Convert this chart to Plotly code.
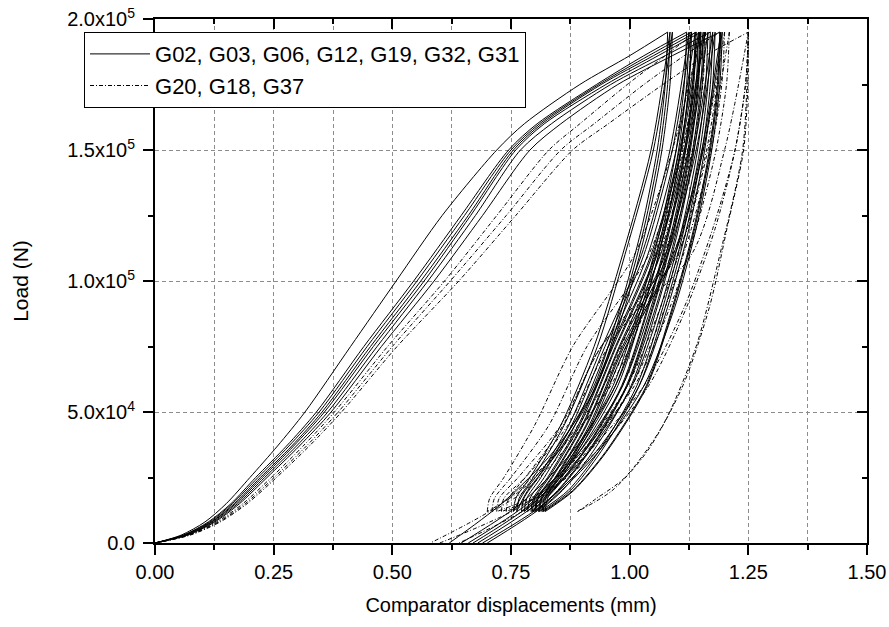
import plotly.graph_objects as go

# ---------------- data ----------------
SOLID_LABEL = "G02, G03, G06, G12, G19, G32, G31"
DASH_LABEL = "G20, G18, G37"

LOAD_Y = [0, 3000, 8000, 15000, 25000, 37000, 50000, 75000, 100000, 125000, 150000, 160000, 175000, 186000, 195000]
UNLOAD_Y = [195000, 175000, 150000, 120000, 90000, 60000, 35000, 20000, 12000]
RELOAD_Y = [12000, 17000, 25000, 45000, 75000, 110000, 150000, 195000]
FINAL_Y = [195000, 175000, 150000, 120000, 90000, 60000, 35000, 15000, 0]

# solid specimens: loading, unload 1, reload 1, unload 2, reload 2, final unload
S1_LOAD = [0, 0.055, 0.105, 0.15, 0.2, 0.258, 0.316, 0.412, 0.508, 0.605, 0.72, 0.778, 0.895, 1.0, 1.08]
S1_U1 = [1.08, 1.075, 1.058, 1.025, 0.98, 0.925, 0.845, 0.78, 0.755]
S1_R1 = [0.755, 0.76, 0.79, 0.855, 0.925, 0.985, 1.045, 1.085]
S1_U2 = [1.085, 1.08, 1.063, 1.03, 0.985, 0.93, 0.85, 0.785, 0.762]
S1_R2 = [0.762, 0.767, 0.797, 0.862, 0.932, 0.99, 1.05, 1.09]
S1_F = [1.09, 1.085, 1.068, 1.035, 0.99, 0.93, 0.84, 0.73, 0.62]

S2_LOAD = [0, 0.06, 0.112, 0.16, 0.212, 0.277, 0.34, 0.44, 0.545, 0.645, 0.745, 0.805, 0.93, 1.03, 1.12]
S2_U1 = [1.12, 1.115, 1.098, 1.065, 1.02, 0.965, 0.885, 0.82, 0.772]
S2_R1 = [0.772, 0.777, 0.807, 0.872, 0.942, 1.025, 1.085, 1.125]
S2_U2 = [1.125, 1.12, 1.103, 1.07, 1.025, 0.97, 0.89, 0.825, 0.778]
S2_R2 = [0.778, 0.783, 0.813, 0.878, 0.948, 1.03, 1.09, 1.13]
S2_F = [1.13, 1.125, 1.108, 1.075, 1.03, 0.97, 0.88, 0.77, 0.645]

S3_LOAD = [0, 0.06, 0.115, 0.163, 0.217, 0.282, 0.346, 0.447, 0.552, 0.652, 0.75, 0.81, 0.935, 1.04, 1.13]
S3_U1 = [1.13, 1.125, 1.108, 1.075, 1.03, 0.975, 0.895, 0.83, 0.785]
S3_R1 = [0.785, 0.79, 0.82, 0.885, 0.955, 1.038, 1.098, 1.138]
S3_U2 = [1.138, 1.133, 1.116, 1.083, 1.038, 0.983, 0.903, 0.838, 0.792]
S3_R2 = [0.792, 0.797, 0.827, 0.892, 0.962, 1.045, 1.105, 1.145]
S3_F = [1.145, 1.14, 1.123, 1.09, 1.045, 0.985, 0.895, 0.785, 0.66]

S4_LOAD = [0, 0.062, 0.118, 0.167, 0.222, 0.288, 0.352, 0.454, 0.56, 0.66, 0.755, 0.815, 0.94, 1.05, 1.14]
S4_U1 = [1.14, 1.135, 1.118, 1.085, 1.04, 0.985, 0.905, 0.84, 0.795]
S4_R1 = [0.795, 0.8, 0.83, 0.895, 0.965, 1.048, 1.108, 1.148]
S4_U2 = [1.148, 1.143, 1.126, 1.093, 1.048, 0.993, 0.913, 0.848, 0.8]
S4_R2 = [0.8, 0.805, 0.835, 0.9, 0.97, 1.055, 1.115, 1.155]
S4_F = [1.155, 1.15, 1.133, 1.1, 1.055, 0.995, 0.905, 0.795, 0.67]

S5_LOAD = [0, 0.064, 0.12, 0.17, 0.226, 0.292, 0.357, 0.46, 0.567, 0.665, 0.76, 0.82, 0.95, 1.06, 1.15]
S5_U1 = [1.15, 1.145, 1.128, 1.095, 1.05, 0.995, 0.915, 0.85, 0.802]
S5_R1 = [0.802, 0.807, 0.837, 0.902, 0.972, 1.058, 1.118, 1.158]
S5_U2 = [1.158, 1.153, 1.136, 1.103, 1.058, 1.003, 0.923, 0.858, 0.808]
S5_R2 = [0.808, 0.813, 0.843, 0.908, 0.978, 1.065, 1.125, 1.165]
S5_F = [1.165, 1.16, 1.143, 1.11, 1.065, 1.005, 0.915, 0.805, 0.68]

S6_LOAD = [0, 0.066, 0.123, 0.174, 0.231, 0.298, 0.364, 0.468, 0.575, 0.675, 0.77, 0.835, 0.96, 1.075, 1.17]
S6_U1 = [1.17, 1.165, 1.148, 1.115, 1.07, 1.015, 0.935, 0.87, 0.81]
S6_R1 = [0.81, 0.815, 0.845, 0.91, 0.98, 1.075, 1.135, 1.175]
S6_U2 = [1.175, 1.17, 1.153, 1.12, 1.075, 1.02, 0.94, 0.875, 0.815]
S6_R2 = [0.815, 0.82, 0.85, 0.915, 0.985, 1.08, 1.14, 1.18]
S6_F = [1.18, 1.175, 1.158, 1.125, 1.08, 1.02, 0.93, 0.82, 0.69]

S7_LOAD = [0, 0.068, 0.126, 0.178, 0.236, 0.304, 0.371, 0.477, 0.588, 0.69, 0.79, 0.855, 0.975, 1.09, 1.19]
S7_U1 = [1.19, 1.185, 1.168, 1.135, 1.09, 1.035, 0.95, 0.88, 0.818]
S7_R1 = [0.818, 0.823, 0.853, 0.918, 0.988, 1.092, 1.152, 1.192]
S7_U2 = [1.192, 1.187, 1.17, 1.137, 1.092, 1.037, 0.952, 0.882, 0.822]
S7_R2 = [0.822, 0.827, 0.857, 0.922, 0.992, 1.095, 1.155, 1.195]
S7_F = [1.195, 1.19, 1.173, 1.14, 1.095, 1.03, 0.935, 0.825, 0.7]

# dash-dot specimens
D1_LOAD = [0, 0.07, 0.13, 0.185, 0.245, 0.312, 0.378, 0.49, 0.61, 0.72, 0.83, 0.895, 0.995, 1.075, 1.14]
D1_U1 = [1.14, 1.134, 1.112, 1.07, 1.015, 0.945, 0.85, 0.77, 0.7]
D1_R1 = [0.7, 0.705, 0.735, 0.8, 0.88, 1.01, 1.09, 1.15]
D1_U2 = [1.15, 1.144, 1.122, 1.08, 1.025, 0.955, 0.86, 0.78, 0.71]
D1_R2 = [0.71, 0.715, 0.75, 0.83, 0.91, 1.04, 1.11, 1.16]
D1_F = [1.16, 1.154, 1.132, 1.09, 1.035, 0.96, 0.85, 0.73, 0.58]

D2_LOAD = [0, 0.072, 0.134, 0.19, 0.251, 0.319, 0.386, 0.5, 0.622, 0.74, 0.855, 0.925, 1.03, 1.115, 1.19]
D2_U1 = [1.19, 1.184, 1.162, 1.12, 1.065, 0.995, 0.9, 0.82, 0.72]
D2_R1 = [0.72, 0.725, 0.765, 0.855, 0.94, 1.09, 1.155, 1.2]
D2_U2 = [1.2, 1.194, 1.172, 1.13, 1.075, 1.005, 0.91, 0.83, 0.73]
D2_R2 = [0.73, 0.735, 0.78, 0.87, 0.955, 1.1, 1.165, 1.21]
D2_F = [1.21, 1.204, 1.182, 1.14, 1.085, 1.01, 0.9, 0.78, 0.6]

D3_LOAD = [0, 0.074, 0.137, 0.194, 0.256, 0.325, 0.393, 0.51, 0.64, 0.76, 0.88, 0.955, 1.07, 1.16, 1.25]
D3_U1 = [1.25, 1.249, 1.24, 1.205, 1.168, 1.112, 1.037, 0.963, 0.89]
D3_R1 = [0.89, 0.93, 0.99, 1.07, 1.14, 1.19, 1.238, 1.25]
D3_U2 = [1.25, 1.244, 1.222, 1.18, 1.12, 1.04, 0.93, 0.83, 0.74]
D3_R2 = [0.74, 0.745, 0.78, 0.86, 0.94, 1.13, 1.2, 1.25]
D3_F = [1.25, 1.244, 1.222, 1.175, 1.115, 1.03, 0.915, 0.8, 0.64]

X_TICKS = [0, 0.25, 0.5, 0.75, 1.0, 1.25, 1.5]
X_TICKTEXT = ["0.00", "0.25", "0.50", "0.75", "1.00", "1.25", "1.50"]
Y_TICKS = [0, 50000, 100000, 150000, 200000]
Y_TICKTEXT = ["0.0", "5.0x10<sup>4</sup>", "1.0x10<sup>5</sup>", "1.5x10<sup>5</sup>", "2.0x10<sup>5</sup>"]

SOLID = [
    (S1_LOAD, S1_U1, S1_R1, S1_U2, S1_R2, S1_F),
    (S2_LOAD, S2_U1, S2_R1, S2_U2, S2_R2, S2_F),
    (S3_LOAD, S3_U1, S3_R1, S3_U2, S3_R2, S3_F),
    (S4_LOAD, S4_U1, S4_R1, S4_U2, S4_R2, S4_F),
    (S5_LOAD, S5_U1, S5_R1, S5_U2, S5_R2, S5_F),
    (S6_LOAD, S6_U1, S6_R1, S6_U2, S6_R2, S6_F),
    (S7_LOAD, S7_U1, S7_R1, S7_U2, S7_R2, S7_F),
]
DASHED = [
    (D1_LOAD, D1_U1, D1_R1, D1_U2, D1_R2, D1_F),
    (D2_LOAD, D2_U1, D2_R1, D2_U2, D2_R2, D2_F),
    (D3_LOAD, D3_U1, D3_R1, D3_U2, D3_R2, D3_F),
]
SEG_Y = [LOAD_Y, UNLOAD_Y, RELOAD_Y, UNLOAD_Y, RELOAD_Y, FINAL_Y]

FONT = "Arial, Liberation Sans, sans-serif"

fig = go.Figure()


def add_group(specimens, name, dash, group):
    first = True
    for spec in specimens:
        for xs, ys in zip(spec, SEG_Y):
            fig.add_trace(go.Scatter(
                x=xs, y=ys, mode="lines",
                line=dict(color="black", width=1, dash=dash, shape="spline", smoothing=0.8),
                name=name, legendgroup=group, showlegend=first, hoverinfo="skip",
            ))
            first = False


add_group(SOLID, SOLID_LABEL, "solid", "solid")
add_group(DASHED, DASH_LABEL, "4px,2px,1px,2px", "dash")

# invisible trace to anchor the mirrored (inside-tick) axes
fig.add_trace(go.Scatter(x=[0], y=[0], xaxis="x2", yaxis="y2", mode="markers",
                         marker=dict(opacity=0), showlegend=False, hoverinfo="skip"))

grid = dict(gridcolor="#8c8c8c", gridwidth=1, griddash="4px,3px")

fig.update_layout(
    width=889, height=627,
    margin=dict(l=155, r=22, t=19, b=84, autoexpand=False),
    paper_bgcolor="white", plot_bgcolor="white",
    font=dict(family=FONT, color="black", size=20),
    showlegend=True,
    legend=dict(
        x=-0.0997, y=0.975, xanchor="left", yanchor="top",
        bgcolor="white", bordercolor="black", borderwidth=1,
        font=dict(size=22, family=FONT), tracegroupgap=0, itemwidth=60,
    ),
    xaxis=dict(
        range=[0, 1.5], tickvals=X_TICKS, ticktext=X_TICKTEXT, automargin=False,
        ticklabeloverflow="allow",
        showline=True, linecolor="black", linewidth=2, mirror=True,
        ticks="outside", ticklen=10, tickwidth=2, tickcolor="black",
        showgrid=True, zeroline=False, **grid,
        minor=dict(dtick=0.125, tick0=0, ticks="outside", ticklen=5, tickwidth=2,
                   tickcolor="black", showgrid=True, **grid),
        title=dict(text="Comparator displacements (mm)", font=dict(size=20), standoff=16),
        tickfont=dict(size=20),
    ),
    yaxis=dict(
        range=[0, 200000], tickvals=Y_TICKS, ticktext=Y_TICKTEXT, automargin=False,
        ticklabeloverflow="allow",
        showline=True, linecolor="black", linewidth=2, mirror=True,
        ticks="outside", ticklen=10, tickwidth=2, tickcolor="black",
        showgrid=True, zeroline=False, **grid, ticklabelstandoff=4,
        minor=dict(dtick=25000, tick0=0, ticks="outside", ticklen=5, tickwidth=2,
                   tickcolor="black", showgrid=False),
        title=dict(text="Load (N)", font=dict(size=21), standoff=33),
        tickfont=dict(size=20),
    ),
    xaxis2=dict(
        overlaying="x", side="top", anchor="y2", range=[0, 1.5], automargin=False,
        tickvals=X_TICKS, showticklabels=False, ticks="inside", ticklen=10, tickwidth=2,
        tickcolor="black", showgrid=False, zeroline=False, showline=False,
        minor=dict(dtick=0.125, tick0=0, ticks="inside", ticklen=5, tickwidth=2, tickcolor="black"),
    ),
    yaxis2=dict(
        overlaying="y", side="right", anchor="x2", range=[0, 200000], automargin=False,
        tickvals=Y_TICKS, showticklabels=False, ticks="inside", ticklen=10, tickwidth=2,
        tickcolor="black", showgrid=False, zeroline=False, showline=False,
        minor=dict(dtick=25000, tick0=0, ticks="inside", ticklen=5, tickwidth=2, tickcolor="black"),
    ),
)

# remove the browser's default 8px body margin so the figure sits at the page origin
fig.write_html(
    "out.html",
    config={"displayModeBar": False},
    post_script="document.body.style.margin='0px';document.body.style.overflow='hidden';",
)
